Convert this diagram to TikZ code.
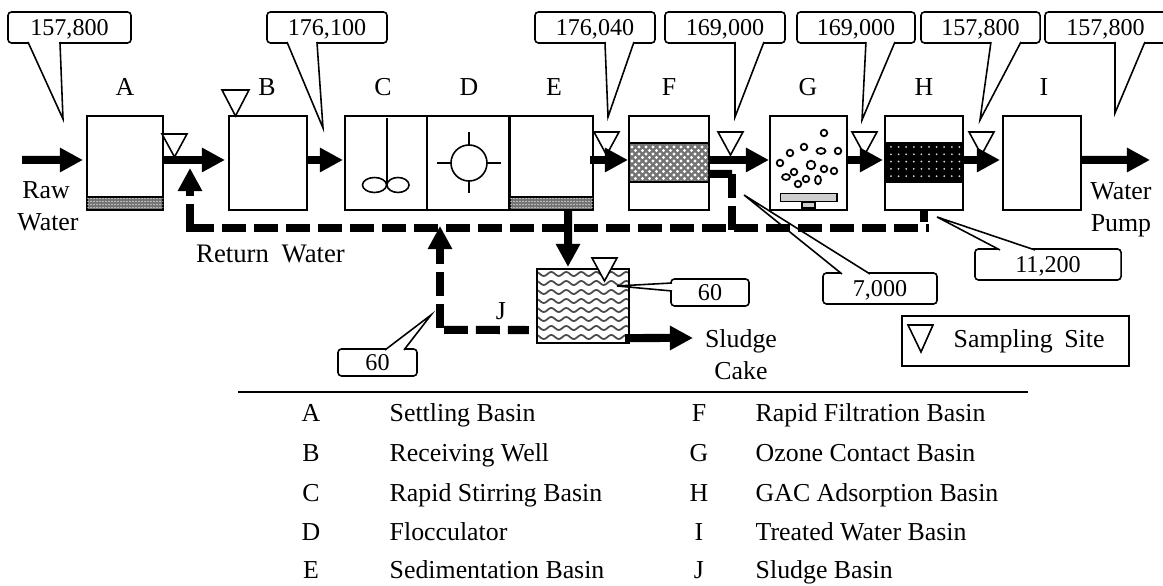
\documentclass[tikz,border=0pt]{standalone}
\usepackage{fontspec}
\setmainfont{Liberation Serif}
\usetikzlibrary{arrows.meta,calc}
\definecolor{bandgray}{HTML}{747474}
\definecolor{basegray}{HTML}{CFCFCF}
\definecolor{wavegray}{HTML}{4A4A4A}
\newcommand{\lblfont}{\fontsize{7.35}{9}\selectfont}
\newcommand{\valfont}{\fontsize{6.85}{8}\selectfont}
\newcommand{\calltail}[3]{\fill[white] #1 -- #2 -- #3 -- cycle; \draw[tail] #1 -- #2 -- #3;}
\tikzset{
  basin/.style={draw,line width=.45pt,fill=white,inner sep=0pt,outer sep=0pt,minimum height=.94cm},
  valbox/.style={draw,line width=.45pt,fill=white,rounded corners=.035cm,inner sep=0pt,outer sep=0pt,
    font=\valfont,text height=.16cm,text depth=0pt},
  tail/.style={line width=.45pt,line join=miter},
  site/.style={line width=.45pt,fill=white},
  lbl/.style={font=\lblfont,anchor=base,inner sep=0pt},
  rowname/.style={font=\lblfont,anchor=base west,inner sep=0pt},
  flow/.style={line width=.08cm,-{Triangle[length=.23cm,width=.23cm]}},
  pipe/.style={line width=.08cm},
  pipedash/.style={line width=.08cm,dash pattern=on .24cm off .08cm},
  fitting/.style={line width=.45pt},
  bubble/.style={line width=.5pt}
}
\begin{document}
\begin{tikzpicture}[x=.01cm,y=-.01cm]
  \useasboundingbox (0,0) rectangle (1163,586);

  \node[basin,minimum width=.76cm] (A) at (125,163) {};
  \node[basin,minimum width=.78cm] (B) at (268,163) {};
  \node[basin,minimum width=.82cm] (C) at (386,163) {};
  \node[basin,minimum width=.82cm] (D) at (468,163) {};
  \node[basin,minimum width=.83cm] (E) at (551.5,163) {};
  \node[basin,minimum width=.80cm] (F) at (669,163) {};
  \node[basin,minimum width=.77cm] (G) at (808.5,163) {};
  \node[basin,minimum width=.78cm] (H) at (924,163) {};
  \node[basin,minimum width=.78cm] (I) at (1042,163) {};
  \node[basin,minimum width=.92cm,minimum height=.74cm] (J) at (583,306) {};

  \foreach \bx/\bw in {87/76,510/83}{
    \draw[fitting,fill=bandgray] (\bx,197) rectangle ++(\bw,13);
    \begin{scope}
      \clip (\bx,198) rectangle ++(\bw,11);
      \foreach \x in {0,3,...,84} \foreach \y in {198,201,...,210}
        \fill[white] (\bx+\x+1,\y+.5) circle (.7);
    \end{scope}
  }
  \draw[fitting,fill=bandgray] (629,143) rectangle (709,182);
  \begin{scope}
    \clip (630,144) rectangle (708,181);
    \foreach \x in {632,639,...,709} \foreach \y in {147,154,...,182}{
      \fill[white] (\x,\y) circle (1.6);
      \fill[white] (\x+3.5,\y+3.5) circle (1.6);
    }
  \end{scope}
  \draw[fitting,fill=black] (885,143) rectangle (963,182);
  \foreach \x in {891,898.6,...,960} \foreach \y in {147,154.3,...,180}
    \fill[white!85!black] (\x,\y) circle (1);
  \begin{scope}
    \clip (J.north west) rectangle (J.south east);
    \foreach \y in {274,283,...,340}
      \draw[wavegray,line width=.5pt] plot[domain=537:629,samples=70] (\x,{\y+2*sin(24*\x)});
  \end{scope}
  \draw[fitting] (J.north west) rectangle (J.south east);

  \draw[fitting] (C.north) ++(1,2) -- (387,185);
  \draw[fitting] (374.5,185) ellipse (12 and 7.5);
  \draw[fitting] (398,185) ellipse (11 and 7.5);
  \draw[fitting] (469,163) circle (18);
  \draw[fitting] (469,132) -- (469,145);
  \draw[fitting] (469,181) -- (469,193);
  \draw[fitting] (437,163) -- (451,163);
  \draw[fitting] (487,163) -- (501,163);

  \foreach \x/\y/\rx/\ry in {824/133/3.3/3.3,804/147/3.3/3.3,790/153/3.3/3.3,780/163/3.3/3.3,
    821/151/4.5/3,838/151/3.3/3.3,811/165/4.3/4.3,824/169/3.3/3.3,834/171/3.3/3.3,794/172/3.3/3.3,
    786/177/4/3,806/179/3.3/3.3,818/180/3/4.3,798/184/3.3/3.3}
    \draw[bubble] (\x,\y) ellipse ({\rx} and {\ry});
  \draw[fitting,fill=basegray] (802,202) rectangle (815,208);
  \draw[bubble,fill=basegray] (780.5,193.5) rectangle (837,201.5);

  \node[valbox,minimum width=1.23cm,minimum height=.31cm] (qA) at (69.5,27.5) {157,800};
  \node[valbox,minimum width=1.20cm,minimum height=.31cm] (qB) at (327,27.5) {176,100};
  \node[valbox,minimum width=1.20cm,minimum height=.31cm] (qE) at (595,27.5) {176,040};
  \node[valbox,minimum width=1.20cm,minimum height=.31cm] (qF) at (725,27.5) {169,000};
  \node[valbox,minimum width=1.18cm,minimum height=.31cm] (qG) at (856,27.5) {169,000};
  \node[valbox,minimum width=1.19cm,minimum height=.31cm] (qH) at (980.5,27.5) {157,800};
  \node[valbox,minimum width=1.21cm,minimum height=.31cm] (qI) at (1105.5,27.5) {157,800};
  \node[valbox,minimum width=.78cm,minimum height=.27cm] (qJ) at (710,292.5) {60};
  \node[valbox,minimum width=.79cm,minimum height=.27cm] (qR) at (377.5,362.5) {60};
  \node[valbox,minimum width=1.14cm,minimum height=.31cm] (qS) at (880,288.5) {7,000};
  \node[valbox,minimum width=1.46cm,minimum height=.31cm] (qT) at (1048,264.5) {11,200};

  \calltail{($(qA.south west)+(20,-1)$)}{(63,119)}{($(qA.south west)+(52,-1)$)}
  \calltail{($(qB.south west)+(20,-1)$)}{(323,128)}{($(qB.south west)+(50,-1)$)}
  \calltail{($(qE.south west)+(70,-1)$)}{(608,117)}{($(qE.south west)+(99,-1)$)}
  \calltail{($(qF.south west)+(70,-1)$)}{(735,117)}{($(qF.south west)+(99,-1)$)}
  \calltail{($(qG.south west)+(69,-1)$)}{(862,120)}{($(qG.south west)+(98,-1)$)}
  \calltail{($(qH.south west)+(70,-1)$)}{(980,120)}{($(qH.south west)+(100,-1)$)}
  \calltail{($(qI.south west)+(70,-1)$)}{(1115,113)}{($(qI.south west)+(100,-1)$)}
  \calltail{($(qJ.south west)+(1,-15)$)}{(617,286)}{($(qJ.south west)+(1,-23)$)}
  \calltail{($(qR.north west)+(47,1)$)}{(431,315)}{($(qR.north west)+(66,1)$)}
  \calltail{($(qS.north west)+(19,1)$)}{(744,195)}{($(qS.north west)+(47,1)$)}
  \calltail{($(qT.north west)+(25,1)$)}{(937,217)}{($(qT.north west)+(60,1)$)}

  \draw[site] (162,134) -- (187,134) -- (174.5,157) -- cycle;
  \draw[site] (222,90) -- (249,90) -- (235.5,116) -- cycle;
  \draw[site] (594,132) -- (619,132) -- (606.5,155) -- cycle;
  \draw[site] (718,132) -- (743,132) -- (730.5,155) -- cycle;
  \draw[site] (852,132) -- (877,132) -- (864.5,155) -- cycle;
  \draw[site] (969,132) -- (994,132) -- (981.5,155) -- cycle;
  \draw[site] (592,258) -- (617,258) -- (604.5,281) -- cycle;

  \coordinate (rawin) at (22,160);
  \coordinate (pumpout) at (1150,160);
  \coordinate (cakeout) at (693,338);
  \coordinate (retend) at (929,228);
  \coordinate (retmid) at (190,228);
  \coordinate (retbase) at (190,232);
  \coordinate (rettip) at (190,168);
  \coordinate (backtop) at (732,174);
  \coordinate (backbot) at (732,230);
  \coordinate (Hstub) at (924,222);
  \coordinate (Jturn) at (444,330);
  \coordinate (Jbase) at (440,328);
  \coordinate (Jtip) at (440,226);

  \draw[flow] (rawin) -- ([xshift=-.04cm,yshift=.03cm]A.west);
  \draw[flow] ([yshift=.03cm]A.east) -- ([xshift=-.04cm,yshift=.03cm]B.west);
  \draw[flow] ([yshift=.03cm]B.east) -- ([xshift=-.02cm,yshift=.03cm]C.west);
  \draw[flow] ([xshift=-.03cm,yshift=.03cm]E.east) -- ([xshift=-.01cm,yshift=.03cm]F.west);
  \draw[flow] ([yshift=.03cm]F.east) -- ([xshift=-.01cm,yshift=.03cm]G.west);
  \draw[flow] ([yshift=.03cm]G.east) -- ([xshift=-.02cm,yshift=.03cm]H.west);
  \draw[flow] ([yshift=.03cm]H.east) -- ([xshift=-.03cm,yshift=.03cm]I.west);
  \draw[flow] ([yshift=.03cm]I.east) -- (pumpout);
  \draw[flow] ([xshift=-.04cm,yshift=-.32cm]J.east) -- (cakeout);
  \draw[flow] ([xshift=.165cm]E.south) -- ([xshift=-.15cm,yshift=.02cm]J.north);
  \draw[pipe] (H.south) -- (Hstub);
  \draw[pipe] ([yshift=-.11cm]F.east) -- (backtop);
  \draw[pipedash] (backtop) -- (backbot);
  \draw[pipedash,dash phase=.21cm] (retend) -- (retmid);
  \draw[flow,dash pattern=on .28cm off .08cm on .24cm off .08cm] (retbase) -- (rettip);
  \draw[pipedash,dash phase=.03cm] ([xshift=-.08cm,yshift=-.24cm]J.west) -- (Jturn);
  \draw[flow,dash pattern=on .24cm off .08cm] (Jbase) -- (Jtip);

  \node[lbl] (labA) at (125,96) {A};
  \node[lbl] (labB) at (267,96) {B};
  \node[lbl] (labC) at (383,96) {C};
  \node[lbl] (labD) at (469,96) {D};
  \node[lbl] (labE) at (554,96) {E};
  \node[lbl] (labF) at (669,96) {F};
  \node[lbl] (labG) at (808,96) {G};
  \node[lbl] (labH) at (924,96) {H};
  \node[lbl] (labI) at (1044,96) {I};
  \node[lbl] (labJ) at (501,320) {J};
  \node[lbl] (raw1) at (46,199) {Raw};
  \node[lbl] (raw2) at (48,231) {Water};
  \node[lbl] (pump1) at (1121,200) {Water};
  \node[lbl] (pump2) at (1121,232) {Pump};
  \node[lbl,font=\fontsize{7.6}{9}\selectfont] (ret) at (270.5,263) {Return\hspace{.06cm} Water};
  \node[lbl] (cake1) at (741,348) {Sludge};
  \node[lbl] (cake2) at (741,380) {Cake};

  \node[draw,line width=.5pt,inner sep=0pt,minimum width=2.27cm,minimum height=.50cm] (legend) at (1015.5,341) {};
  \draw[site] (908,325) -- (933,325) -- (921,352) -- cycle;
  \node[rowname] (legtxt) at (953,348) {Sampling\hspace{.05cm} Site};

  \draw[line width=.55pt] (238,392) -- (1028,392);
  \foreach \k/\t/\y in {A/Settling Basin/422,B/Receiving Well/462,C/Rapid Stirring Basin/502,
    D/Flocculator/541,E/Sedimentation Basin/579}{
    \node[lbl] (key\k) at (311,\y) {\k};
    \node[rowname] (name\k) at (389,\y) {\t};
  }
  \foreach \k/\t/\y in {F/Rapid Filtration Basin/422,G/Ozone Contact Basin/462,H/GAC Adsorption Basin/502,
    I/Treated Water Basin/541,J/Sludge Basin/579}{
    \node[lbl] (key\k) at (699,\y) {\k};
    \node[rowname] (name\k) at (755,\y) {\t};
  }
\end{tikzpicture}
\end{document}
